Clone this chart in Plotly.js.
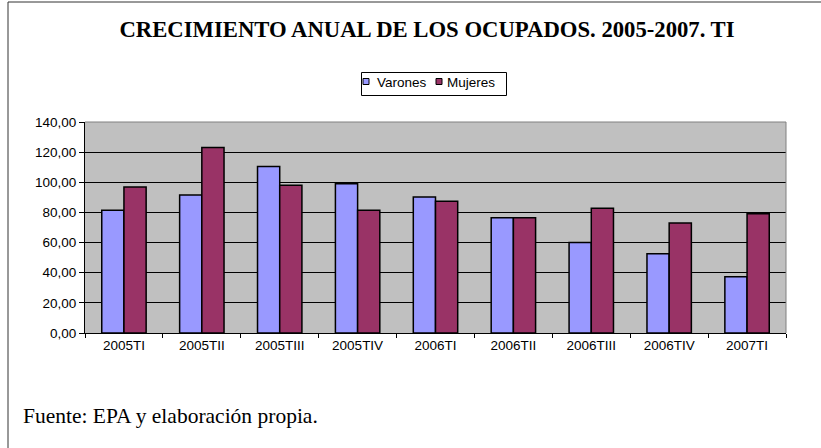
<!DOCTYPE html>
<html>
<head>
<meta charset="utf-8">
<script src="https://cdn.plot.ly/plotly-3.0.1.min.js"></script>
<style>
html,body{margin:0;padding:0;background:#fff;}
#chart{width:821px;height:448px;}
</style>
</head>
<body>
<div id="chart"></div>
<script>
const categories = ["2005TI","2005TII","2005TIII","2005TIV","2006TI","2006TII","2006TIII","2006TIV","2007TI"];
const varones = [81.4, 91.5, 110.5, 99.1, 90.2, 76.5, 60.1, 52.6, 37.4];
const mujeres = [96.8, 123.1, 98.1, 81.4, 87.5, 76.5, 82.7, 73.0, 79.2];
const seriesNames = ["Varones", "Mujeres"];
const seriesColors = ["#9999ff", "#993366"];
const yTicks = [0, 20, 40, 60, 80, 100, 120, 140];
const titleText = "CRECIMIENTO ANUAL DE LOS OCUPADOS. 2005-2007. TI";
const sourceText = "Fuente: EPA y elaboración propia.";

const W = 821, H = 448;
const m = {l: 85, r: 35, t: 122, b: 115};
const pw = W - m.l - m.r, ph = H - m.t - m.b;
const px = x => (x - m.l) / pw;
const py = y => (H - m.b - y) / ph;
const SANS = "Liberation Sans, Arial, sans-serif";
const SERIF = "Liberation Serif, Times New Roman, serif";

const traces = [varones, mujeres].map((vals, i) => ({
  type: "bar", name: seriesNames[i], x: categories, y: vals,
  marker: {color: seriesColors[i], line: {color: "#000", width: 1.5}}
}));

// custom compact legend (box, small squares, labels)
const legendShapes = [
  {type: "rect", xref: "paper", yref: "paper", x0: px(361.5), x1: px(506.5), y0: py(72.5), y1: py(95.5),
   line: {color: "#000", width: 1}, fillcolor: "#fff"}
];
const legendSquareX = [363, 436];
const legendTextX = [374.5, 444.5];
const legendAnn = [];
seriesNames.forEach((n, i) => {
  legendShapes.push({type: "rect", xref: "paper", yref: "paper",
    x0: px(legendSquareX[i]), x1: px(legendSquareX[i] + 6), y0: py(78.5), y1: py(84.5),
    line: {color: "#000", width: 1}, fillcolor: seriesColors[i]});
  legendAnn.push({text: n, xref: "paper", yref: "paper", x: px(legendTextX[i]), y: py(82.5),
    xanchor: "left", yanchor: "middle", showarrow: false,
    font: {family: SANS, size: 13.5, color: "#000"}});
});

const layout = {
  width: W, height: H,
  margin: m,
  paper_bgcolor: "#fff",
  plot_bgcolor: "#c0c0c0",
  separators: ",.",
  bargap: 0.43, bargroupgap: 0,
  barmode: "group",
  font: {family: SANS, size: 13.5, color: "#000"},
  title: {text: "<b>" + titleText + "</b>", x: 427 / W, xanchor: "center",
          y: 1 - 29.5 / H, yanchor: "middle",
          font: {family: SERIF, size: 22.7, color: "#000"}},
  showlegend: false,
  xaxis: {type: "category", showgrid: false, zeroline: false,
          showline: true, linecolor: "#000", linewidth: 1,
          ticks: "outside", ticklen: 4, tickcolor: "#000", tickson: "boundaries",
          tickfont: {family: SANS, size: 13.5}, fixedrange: true},
  yaxis: {range: [0, 140], tickvals: yTicks, tickformat: ".2f",
          showgrid: true, gridcolor: "#000", gridwidth: 1, zeroline: false,
          showline: true, linecolor: "#000", linewidth: 1,
          ticks: "outside", ticklen: 5, tickcolor: "#000",
          tickfont: {family: SANS, size: 13.5}, fixedrange: true},
  shapes: [
    {type: "line", xref: "paper", yref: "paper", x0: 0, x1: 1, y0: 1, y1: 1, line: {color: "#808080", width: 1}},
    {type: "line", xref: "paper", yref: "paper", x0: 1, x1: 1, y0: 0, y1: 1, line: {color: "#808080", width: 1}},
    {type: "line", xref: "paper", yref: "paper", x0: px(8), x1: px(W), y0: py(2), y1: py(2), line: {color: "#333", width: 1}},
    {type: "line", xref: "paper", yref: "paper", x0: px(8), x1: px(8), y0: py(2), y1: py(H), line: {color: "#333", width: 1}}
  ].concat(legendShapes),
  annotations: [
    {text: sourceText, xref: "paper", yref: "paper", x: px(21), y: py(415.5),
     xanchor: "left", yanchor: "middle", showarrow: false,
     font: {family: SERIF, size: 21.5, color: "#000"}}
  ].concat(legendAnn)
};

Plotly.newPlot("chart", traces, layout, {displayModeBar: false, staticPlot: true});
</script>
</body>
</html>
